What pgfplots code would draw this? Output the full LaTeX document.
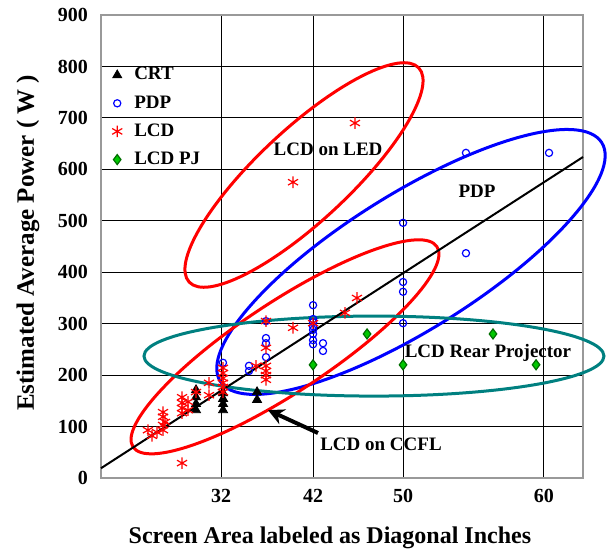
\documentclass[border=0pt]{standalone}
\usepackage{pgfplots}
\pgfplotsset{compat=1.18}
\usepackage{fontspec}
\setmainfont{Liberation Serif}
\usetikzlibrary{arrows.meta}
\definecolor{pjgreen}{RGB}{0,200,0}
\definecolor{pjedge}{RGB}{0,110,0}
\definecolor{teal2}{RGB}{0,128,128}
\begin{document}
\begin{tikzpicture}
\begin{axis}[
  name=ax,
  scale only axis,
  width=241pt, height=231.5pt,
  xmin=70, xmax=3900, ymin=0, ymax=900,
  xtick={1024,1755,2470,3590},
  xticklabels={32,42,50,60},
  ytick={0,100,...,900},
  major tick length=0pt,
  xmajorgrids, ymajorgrids,
  grid style={black, line width=0.5pt},
  axis line style={gray!80, line width=1pt},
  /pgf/number format/assume math mode=true,
  tick label style={font=\fontsize{10}{12}\selectfont\bfseries},
  yticklabel style={xshift=-3pt},
  xticklabel style={yshift=-2pt},
  xlabel={Screen Area labeled as Diagonal Inches},
  ylabel={Estimated Average Power ( W )},
  xlabel style={at={(axis description cs:0.475,0)}, anchor=center, yshift=-29.8pt, font=\fontsize{12}{14}\selectfont\bfseries},
  ylabel style={at={(axis description cs:0,0.508)}, anchor=center, yshift=36.5pt, font=\fontsize{12.5}{15}\selectfont\bfseries},
  clip=false,
  legend style={at={(axis description cs:0.01,0.905)}, anchor=north west, draw=none, fill=none,
    font=\fontsize{9.5}{11}\selectfont\bfseries, row sep=2.3pt, column sep=4pt},
  legend cell align=left,
]
% ellipses
\draw[red, line width=1.5pt, rotate around={43:(axis cs:1683,589)}] (axis cs:1683,589) ellipse [x radius=78.5pt, y radius=23pt];
\draw[blue, line width=1.5pt, rotate around={32:(axis cs:2533,420)}] (axis cs:2533,420) ellipse [x radius=112.5pt, y radius=34pt];
\draw[red, line width=1.5pt, rotate around={33.4:(axis cs:1532,255)}] (axis cs:1532,255) ellipse [x radius=91pt, y radius=22.5pt];
\draw[teal2, line width=1.5pt] (axis cs:2239,237) ellipse [x radius=115pt, y radius=20pt];

\addplot[only marks, mark=triangle*, mark size=2.6pt, black] coordinates {
(825,171) (825,157) (825,144) (825,132) (1040,165) (1040,154) (1040,144) (1040,132) (1310,167) (1310,152)
};
\addlegendentry{CRT}
\addplot[only marks, mark=o, mark size=1.8pt, blue, line width=0.6pt] coordinates {
(1039,224) (1246,218) (1246,208) (1381,305) (1381,272) (1381,262) (1381,235)
(1755,336) (1755,309) (1755,303) (1755,295) (1755,288) (1755,280) (1755,268) (1755,260)
(1834,262) (1834,247) (2470,496) (2470,381) (2470,362) (2470,301)
(2970,632) (2970,437) (3630,632)
};
\addlegendentry{PDP}
\addplot[only marks, mark=asterisk, mark size=2.9pt, red, line width=0.6pt] coordinates {
(714,29) (443,93) (515,89) (563,93) (563,128) (563,119) (579,109) (563,103) (475,82)
(714,157) (714,146) (714,136) (714,126) (761,148) (761,132) (825,167)
(928,185) (928,161) (1039,214) (1039,204) (1039,194) (1039,185) (1039,177) (1039,167)
(1302,218) (1381,305) (1381,253) (1381,218) (1381,208) (1381,200) (1381,191)
(1596,292) (1596,575) (1755,301) (2009,321) (2104,350) (2088,690)
};
\addlegendentry{LCD}
\addplot[only marks, mark=diamond*, mark size=2.5pt, draw=pjedge, fill=pjgreen, line width=0.6pt] coordinates {
(1755,220) (2184,280) (2470,220) (3185,280) (3527,220)
};
\addlegendentry{LCD PJ}

\addplot[black, line width=1pt, forget plot] coordinates {(70,19) (3900,624)};

\node[font=\fontsize{9.5}{11}\selectfont\bfseries] at (axis cs:1874,638) {LCD on LED};
\node[font=\fontsize{9.5}{11}\selectfont\bfseries] at (axis cs:3058,558) {PDP};
\node[font=\fontsize{9.5}{11}\selectfont\bfseries] at (axis cs:3145,243) {LCD Rear Projector};
\node[font=\fontsize{9.5}{11}\selectfont\bfseries] at (axis cs:2295,66) {LCD on CCFL};
\draw[line width=2pt, -{Stealth[length=8pt,width=8pt]}] (axis cs:1794,87.5) -- (axis cs:1397,132);
\end{axis}
\pgfresetboundingbox
\path ([shift={(-50.5pt,-35pt)}]ax.south west) rectangle ([shift={(254.5pt,239pt)}]ax.south west);
\end{tikzpicture}
\end{document}
